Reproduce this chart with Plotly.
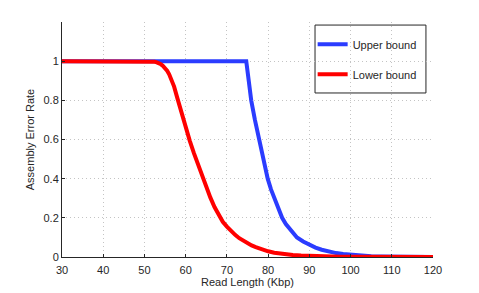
import plotly.graph_objects as go

# Data
upper_x = [30, 74.7, 75.3, 75.9, 76.8, 77.8, 78.8, 79.9, 80.7, 81.5, 82.4, 83.4, 84.3, 85.3, 86.1, 87, 88.5, 90,
           91.5, 93, 94.7, 96.5, 98.2, 100, 102.5, 105, 107.5, 110, 115, 120]
upper_y = [1, 1, 0.9, 0.8, 0.7, 0.6, 0.5, 0.4, 0.345, 0.3, 0.25, 0.2, 0.168, 0.14, 0.12, 0.1, 0.079, 0.062,
           0.048, 0.037, 0.028, 0.02, 0.015, 0.011, 0.007, 0.004, 0.0025, 0.0015, 0.0005, 0]

lower_x = [30, 51.5, 52, 52.5, 53, 53.5, 54, 54.5, 55, 55.5, 56, 56.5, 57.2, 58, 59, 60, 61, 62, 63, 64, 65, 66,
           67, 68, 69, 70, 71, 72, 73, 74, 75, 76, 77, 78, 79, 80, 81.5, 83, 84.5, 86, 88, 90, 92.5, 95, 97.5,
           100, 105, 110, 120]
lower_y = [1, 1, 0.999, 0.997, 0.994, 0.99, 0.984, 0.976, 0.965, 0.951, 0.933, 0.91, 0.87, 0.81, 0.735, 0.662,
           0.593, 0.53, 0.47, 0.41, 0.355, 0.303, 0.255, 0.212, 0.18, 0.155, 0.132, 0.113, 0.096, 0.082, 0.07,
           0.059, 0.05, 0.042, 0.035, 0.029, 0.022, 0.017, 0.013, 0.01, 0.0075, 0.0055, 0.0037, 0.0025, 0.0017,
           0.0011, 0.0005, 0.0002, 0]

x_ticks = [30, 40, 50, 60, 70, 80, 90, 100, 110, 120]
y_ticks = [0, 0.2, 0.4, 0.6, 0.8, 1]
y_tick_labels = ["0", "0.2", "0.4", "0.6", "0.8", "1"]

series_names = ["Upper bound", "Lower bound"]

FONT = "Liberation Sans, Arial, Helvetica, sans-serif"
TXT = "#262626"

fig = go.Figure()
fig.add_trace(go.Scatter(x=upper_x, y=upper_y, mode="lines", name=series_names[0],
                         line=dict(color="#2b3cff", width=4), legendgroup="a"))
fig.add_trace(go.Scatter(x=lower_x, y=lower_y, mode="lines", name=series_names[1],
                         line=dict(color="#ff0000", width=4), legendgroup="b"))

axis_common = dict(
    showline=True, linecolor=TXT, linewidth=1, mirror=False,
    showgrid=True, gridcolor="#c4c4c4", griddash="1px,3px", gridwidth=1,
    zeroline=False, ticks="inside", ticklen=3, tickcolor=TXT, automargin=False,
    tickfont=dict(family=FONT, size=11, color=TXT),
)

fig.update_layout(
    width=479, height=293,
    margin=dict(l=62, r=46, t=22, b=36),
    paper_bgcolor="white", plot_bgcolor="white",
    font=dict(family=FONT, size=11, color=TXT),
    xaxis=dict(range=[30, 120], tickvals=x_ticks, ticklabelstandoff=3,
               title=dict(text="Read Length (Kbp)", standoff=2, font=dict(family=FONT, size=11, color=TXT)),
               **axis_common),
    yaxis=dict(range=[0, 1.2], tickvals=y_ticks, ticktext=y_tick_labels,
               title=dict(text="Assembly Error Rate", standoff=6, font=dict(family=FONT, size=11, color=TXT)),
               **axis_common),
    legend=dict(x=0.6756, y=0.967, xanchor="left", yanchor="top",
                borderwidth=0, bgcolor="rgba(0,0,0,0)",
                font=dict(family=FONT, size=11, color=TXT),
                tracegroupgap=11, traceorder="grouped"),
    shapes=[dict(type="rect", xref="paper", yref="paper", x0=0.682, x1=0.981, y0=0.698, y1=0.987,
                 line=dict(color=TXT, width=1), fillcolor="white", layer="below")],
    showlegend=True,
)

fig.write_html("out.html", config={"displayModeBar": False},
               post_script="document.body.style.margin='0';")
